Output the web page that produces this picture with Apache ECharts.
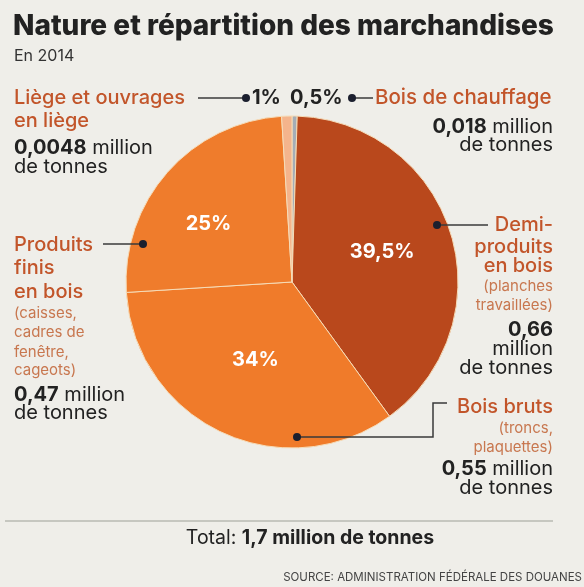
<!DOCTYPE html>
<html>
<head>
<meta charset="utf-8">
<script src="https://cdn.jsdelivr.net/npm/echarts@6/dist/echarts.min.js"></script>
<style>
  html, body { margin: 0; padding: 0; background: #efeee9; }
  #chart { width: 584px; height: 587px; }
</style>
</head>
<body>
<div id="chart"></div>
<script>
// parts, clockwise from 12 o'clock
const names = ['Bois de chauffage', 'Demi-produits en bois', 'Bois bruts', 'Produits finis en bois', 'Liège et ouvrages en liège'];
const shares = [0.5, 39.5, 34, 25, 1];
const amounts = ['0,018', '0,66', '0,55', '0,47', '0,0048'];
const colors = ['#a5adb6', '#b9481c', '#f07b2a', '#ef7c2c', '#f4b48c'];

const ORANGE = '#c2552a';
const LIGHT = '#c8774f';
const DARK = '#222222';
const FONT = 'Inter, Roboto, sans-serif';

var chart = echarts.init(document.getElementById('chart'));

function fmt(v) {
  return String(v).replace('.', ',') + '%';
}

function txt(x, y, text, size, color, weight, align) {
  return {
    type: 'text', z: 100,
    style: {
      x: x, y: y, text: text,
      fill: color,
      font: (weight || 'normal') + ' ' + size + 'px ' + FONT,
      align: align || 'left',
      verticalAlign: 'middle'
    }
  };
}

function amt(x, y, num, rest, align) {
  return {
    type: 'text', z: 100,
    style: {
      x: x, y: y,
      text: '{b|' + num + '}' + rest,
      fill: DARK,
      font: 'normal 20px ' + FONT,
      align: align || 'left',
      verticalAlign: 'middle',
      rich: { b: { fontWeight: 'bold', fontSize: 20, fontFamily: FONT, fill: DARK } }
    }
  };
}

function line(points) {
  return { type: 'polyline', z: 100, shape: { points: points }, style: { stroke: '#3a3a3a', lineWidth: 1.5, fill: null } };
}

function dot(x, y) {
  return { type: 'circle', z: 101, shape: { cx: x, cy: y, r: 4 }, style: { fill: '#1b1f2e' } };
}

var labelOffsets = [[0, 0], [8, -5], [0, 0], [-19, -1], [0, 0]];

var pieData = names.map(function (n, i) {
  return {
    name: n,
    value: shares[i],
    itemStyle: { color: colors[i] },
    label: { show: shares[i] > 5, offset: labelOffsets[i] }
  };
});

var graphics = [
  txt(13, 27, 'Nature et répartition des marchandises', 28, DARK, '800'),
  txt(14, 56, 'En 2014', 16, '#333'),

  // top annotations
  txt(14, 98, 'Liège et ouvrages', 20, ORANGE, '500'),
  txt(14, 121, 'en liège', 20, ORANGE, '500'),
  amt(14, 148, amounts[4], ' million'),
  txt(14, 167, 'de tonnes', 20, DARK),
  line([[198, 98], [246, 98]]), dot(246, 98),
  txt(252, 98, fmt(shares[4]), 20, DARK, 'bold'),
  txt(290, 98, fmt(shares[0]), 20, DARK, 'bold'),
  dot(352, 98), line([[352, 98], [373, 98]]),
  txt(375, 98, 'Bois de chauffage', 20.5, ORANGE, '500'),
  amt(553, 127, amounts[0], ' million', 'right'),
  txt(553, 145, 'de tonnes', 20, DARK, 'normal', 'right'),

  // left
  txt(14, 245, 'Produits', 20, ORANGE, '500'),
  txt(14, 268, 'finis', 20, ORANGE, '500'),
  txt(14, 292, 'en bois', 20, ORANGE, '500'),
  txt(14, 313, '(caisses,', 15, LIGHT),
  txt(14, 332, 'cadres de', 15, LIGHT),
  txt(14, 352, 'fenêtre,', 15, LIGHT),
  txt(14, 370, 'cageots)', 15, LIGHT),
  amt(14, 395, amounts[3], ' million'),
  txt(14, 413, 'de tonnes', 20, DARK),
  line([[103, 244], [143, 244]]), dot(143, 244),

  // right: demi-produits
  dot(437, 225), line([[437, 225], [488, 225]]),
  txt(553, 225, 'Demi-', 20, ORANGE, '500', 'right'),
  txt(553, 247, 'produits', 20, ORANGE, '500', 'right'),
  txt(553, 266, 'en bois', 20, ORANGE, '500', 'right'),
  txt(553, 286, '(planches', 15, LIGHT, 'normal', 'right'),
  txt(553, 305, 'travaillées)', 15, LIGHT, 'normal', 'right'),
  txt(553, 330, amounts[1], 20, DARK, 'bold', 'right'),
  txt(553, 349, 'million', 20, DARK, 'normal', 'right'),
  txt(553, 368, 'de tonnes', 20, DARK, 'normal', 'right'),

  // right: bois bruts
  dot(297, 437), line([[297, 437], [433, 437], [433, 403], [447, 403]]),
  txt(553, 407, 'Bois bruts', 20, ORANGE, '500', 'right'),
  txt(553, 428, '(troncs,', 15, LIGHT, 'normal', 'right'),
  txt(553, 447, 'plaquettes)', 15, LIGHT, 'normal', 'right'),
  amt(553, 469, amounts[2], ' million', 'right'),
  txt(553, 488, 'de tonnes', 20, DARK, 'normal', 'right'),

  // footer
  { type: 'line', z: 100, shape: { x1: 5, y1: 521, x2: 553, y2: 521 }, style: { stroke: '#b9bab2', lineWidth: 1.5 } },
  {
    type: 'text', z: 100,
    style: {
      x: 310, y: 538, text: 'Total: {b|1,7 million de tonnes}',
      fill: DARK, font: 'normal 19.5px ' + FONT, align: 'center', verticalAlign: 'middle',
      rich: { b: { fontWeight: 'bold', fontSize: 19.5, fontFamily: FONT, fill: DARK } }
    }
  },
  txt(582, 578, 'SOURCE: ADMINISTRATION FÉDÉRALE DES DOUANES', 11.5, '#444', 'normal', 'right')
];

chart.setOption({
  backgroundColor: '#efeee9',
  animation: false,
  series: [{
    type: 'pie',
    center: [292, 282],
    radius: [0, 166],
    startAngle: 90,
    clockwise: true,
    avoidLabelOverlap: false,
    silent: true,
    itemStyle: {
      borderColor: '#f6dcb8',
      borderWidth: 1
    },
    label: {
      position: 'inside',
      formatter: function (p) { return fmt(p.value); },
      color: '#fff',
      fontWeight: 'bold',
      fontSize: 20,
      fontFamily: FONT
    },
    labelLine: { show: false },
    data: pieData
  }],
  graphic: graphics
});
</script>
</body>
</html>
